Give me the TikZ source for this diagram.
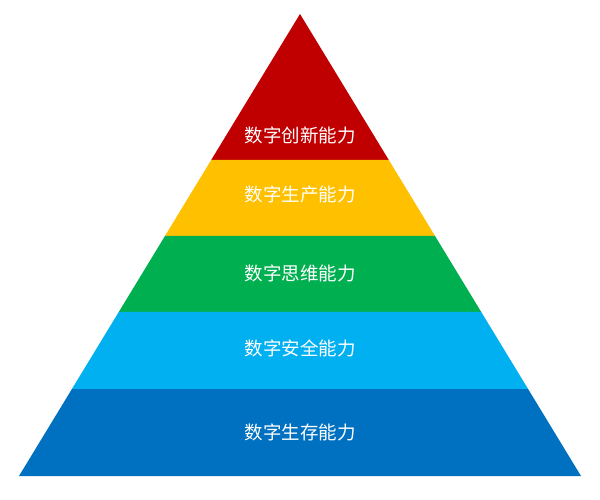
\documentclass[tikz,border=0pt]{standalone}
\usepackage{fontspec}
\newfontfamily\cjk{Noto Sans CJK SC}
\usetikzlibrary{calc}
\definecolor{cred}{HTML}{C00000}
\definecolor{cyellow}{HTML}{FFC000}
\definecolor{cgreen}{HTML}{00B050}
\definecolor{ccyan}{HTML}{00B0F0}
\definecolor{cblue}{HTML}{0070C0}
\tikzset{
  band/.style={draw=none},
  lbl/.style={text=white, font=\cjk\fontsize{18.5pt}{21pt}\selectfont, inner sep=0pt, anchor=center}
}
\begin{document}
\begin{tikzpicture}[x=1pt,y=-1pt]
\useasboundingbox (0,0) rectangle (600,500);
\coordinate (A) at (300,14);
\coordinate (BL) at (19,476);
\coordinate (BR) at (581,476);
\coordinate (L1) at ($(A)!0.3160!(BL)$);
\coordinate (R1) at ($(A)!0.3160!(BR)$);
\coordinate (L2) at ($(A)!0.4805!(BL)$);
\coordinate (R2) at ($(A)!0.4805!(BR)$);
\coordinate (L3) at ($(A)!0.6450!(BL)$);
\coordinate (R3) at ($(A)!0.6450!(BR)$);
\coordinate (L4) at ($(A)!0.8117!(BL)$);
\coordinate (R4) at ($(A)!0.8117!(BR)$);
\fill[band, cred] (A) -- (R1) -- (L1) -- cycle;
\fill[band, cyellow] (L1) -- (R1) -- (R2) -- (L2) -- cycle;
\fill[band, cgreen] (L2) -- (R2) -- (R3) -- (L3) -- cycle;
\fill[band, ccyan] (L3) -- (R3) -- (R4) -- (L4) -- cycle;
\fill[band, cblue] (L4) -- (R4) -- (BR) -- (BL) -- cycle;
\node[lbl] (t1) at (300,135) {数字创新能力};
\node[lbl] (t2) at (300,194) {数字生产能力};
\node[lbl] (t3) at (300,273) {数字思维能力};
\node[lbl] (t4) at (300,348) {数字安全能力};
\node[lbl] (t5) at (300,432) {数字生存能力};
\end{tikzpicture}
\end{document}
